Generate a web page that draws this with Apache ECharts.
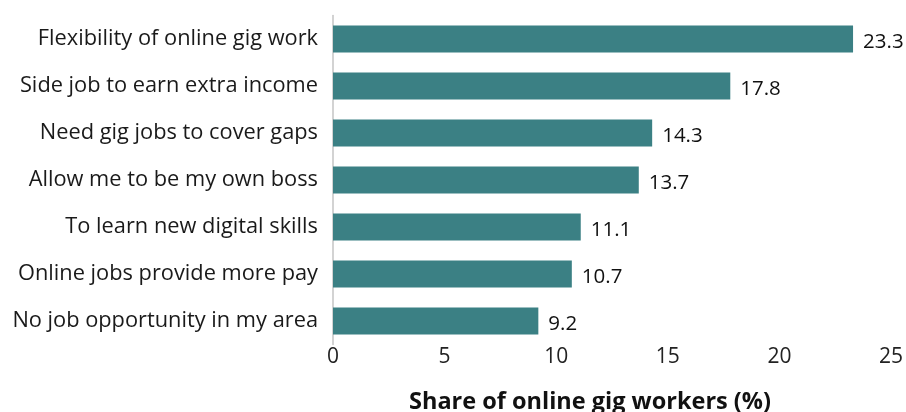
<!DOCTYPE html>
<html>
<head>
<meta charset="utf-8">
<script src="https://cdn.jsdelivr.net/npm/echarts@6/dist/echarts.min.js"></script>
<style>
  html, body { margin: 0; padding: 0; background: #fff; }
  #chart { width: 906px; height: 412px; }
</style>
</head>
<body>
<div id="chart"></div>
<script>
// Reasons for doing online gig work, top to bottom
const categories = [
  'Flexibility of online gig work',
  'Side job to earn extra income',
  'Need gig jobs to cover gaps',
  'Allow me to be my own boss',
  'To learn new digital skills',
  'Online jobs provide more pay',
  'No job opportunity in my area'
];
const shares = [23.3, 17.8, 14.3, 13.7, 11.1, 10.7, 9.2];
const axisTitle = 'Share of online gig workers (%)';

const FONT = '"Open Sans", "Noto Sans", sans-serif';
const chart = echarts.init(document.getElementById('chart'), null, { renderer: 'canvas' });

chart.setOption({
  animation: false,
  backgroundColor: '#ffffff',
  graphic: [{
    type: 'text',
    x: 590,
    y: 390,
    style: {
      text: axisTitle,
      align: 'center',
      verticalAlign: 'top',
      fontFamily: FONT,
      fontSize: 23.5,
      fontWeight: 'bold',
      fill: '#111'
    }
  }],
  grid: { left: 333, right: 15, top: 15.5, bottom: 67.5, containLabel: false },
  xAxis: {
    type: 'value',
    min: 0,
    max: 25,
    interval: 5,
    axisLine: { show: false },
    axisTick: { show: false },
    splitLine: { show: false },
    axisLabel: { fontFamily: FONT, fontSize: 21, color: '#222', margin: 2 }
  },
  yAxis: {
    type: 'category',
    data: categories,
    inverse: true,
    axisLine: { show: true, lineStyle: { color: '#c4c4c4', width: 1.5 } },
    axisTick: { show: false },
    axisLabel: { fontFamily: FONT, fontSize: 21.8, color: '#1a1a1a', margin: 15 }
  },
  series: [{
    type: 'bar',
    data: shares,
    barWidth: 27,
    itemStyle: { color: '#3b8084' },
    label: {
      show: true,
      position: 'right',
      distance: 10,
      offset: [0, 3],
      fontFamily: FONT,
      fontSize: 20.5,
      color: '#111',
      formatter: p => p.value.toFixed(1)
    }
  }]
});
</script>
</body>
</html>
